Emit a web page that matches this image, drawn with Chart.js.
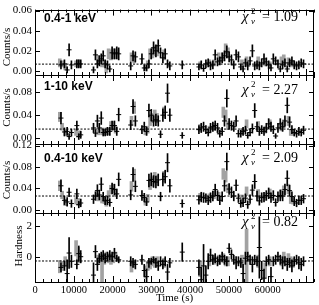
<!DOCTYPE html>
<html>
<head>
<meta charset="utf-8">
<script src="https://cdn.jsdelivr.net/npm/chart.js@4.4.0/dist/chart.umd.min.js"></script>
<style>
html, body { margin: 0; padding: 0; background: #fff; }
#wrap { position: relative; width: 319px; height: 305px; overflow: hidden; background: #fff; }
#wrap canvas { position: absolute; left: 0; top: 0; }
.xlab { position: absolute; width: 40px; text-align: center; font: 10.5px "Liberation Serif", "Times New Roman", serif;
        color: #000; line-height: 11px; z-index: 5; }
</style>
</head>
<body>
<div id="wrap">
  <canvas id="c1" width="319" height="305"></canvas>
  <canvas id="c2" width="319" height="305"></canvas>
  <canvas id="c3" width="319" height="305"></canvas>
  <canvas id="c4" width="319" height="305"></canvas>
</div>
<script>
// time bins (s) of the black points
const blackTime = [6700,7600,8300,8800,9400,
  10800,11300,11800,
  15100,15600,16100,16600,17100,17600,18100,18700,19300,19900,20500,21100,21600,
  24700,25300,25900,27600,28200,28800,29400,30000,30600,31200,31800,32400,33000,33600,34200,34800,
  38000,
  42300,42900,43500,44100,44700,45300,45900,46500,47100,47700,48300,48900,49500,50100,50700,51300,51900,52500,53100,53700,
  54300,54900,55500,56100,56700,57300,57900,58500,59100,59700,60300,60900,61500,62100,62700,63300,63900,64500,65100,65700,
  66300,66900,67500,68100,68700,69300];

// 0.4-1 keV
const softRate = [0.006,0.007,0.001,0.021,0.006,
  0.007,0.007,0.007,
  0.001,0.016,0.007,0.010,0.012,0.015,0.007,0.006,0.002,0.018,0.017,0.018,0.017,
  0.005,0.015,0.014,0.012,0.003,0.003,0.007,0.017,0.023,0.020,0.025,0.018,0.013,0.017,0.007,0.005,
  0.006,
  0.004,0.006,0.0025,0.007,0.008,0.005,0.006,0.016,0.009,0.010,0.013,0.015,0.019,0.014,0.011,0.006,0.016,0.014,0.004,0.002,
  0.008,0.005,0.010,0.020,0.005,0.006,0.005,0.008,0.012,0.009,0.006,0.003,0.012,0.010,0.007,0.002,0.006,0.008,0.002,0.008,
  0.010,0.006,0.005,0.006,0.008,0.007];
const softErr = [0.004,0.004,0.003,0.006,0.004,
  0.004,0.004,0.004,
  0.003,0.005,0.004,0.005,0.005,0.005,0.004,0.004,0.003,0.006,0.005,0.006,0.006,
  0.004,0.005,0.005,0.005,0.003,0.003,0.004,0.005,0.006,0.006,0.006,0.005,0.005,0.005,0.004,0.004,
  0.004,
  0.003,0.004,0.003,0.004,0.004,0.004,0.004,0.005,0.004,0.004,0.005,0.005,0.006,0.005,0.005,0.004,0.005,0.005,0.003,0.003,
  0.004,0.004,0.004,0.006,0.004,0.004,0.004,0.004,0.005,0.004,0.004,0.003,0.005,0.004,0.004,0.003,0.004,0.004,0.003,0.004,
  0.004,0.004,0.004,0.004,0.004,0.004];

// 1-10 keV
const hardRate = [0.035,0.011,0.012,0.003,0.010,
  0.022,0.003,0.006,
  0.018,0.009,0.030,0.018,0.035,0.010,0.010,0.012,0.012,0.022,0.022,0.012,0.041,
  0.023,0.055,0.030,0.015,0.020,0.012,0.048,0.040,0.030,0.032,0.030,0.007,0.040,0.045,0.078,0.040,
  0.005,
  0.015,0.018,0.020,0.015,0.010,0.018,0.020,0.022,0.018,0.008,0.012,0.030,0.069,0.025,0.022,0.020,0.030,0.008,0.008,0.012,
  0.014,0.005,0.010,0.017,0.048,0.020,0.012,0.015,0.012,0.018,0.025,0.020,0.015,0.004,0.018,0.025,0.020,0.030,0.057,0.028,
  0.015,0.010,0.008,0.012,0.010,0.014];
const hardErr = [0.010,0.007,0.007,0.005,0.006,
  0.008,0.005,0.006,
  0.008,0.006,0.010,0.008,0.011,0.006,0.006,0.007,0.007,0.008,0.008,0.007,0.011,
  0.008,0.012,0.009,0.007,0.008,0.007,0.011,0.010,0.009,0.010,0.009,0.006,0.011,0.011,0.016,0.011,
  0.005,
  0.007,0.008,0.008,0.007,0.006,0.008,0.008,0.008,0.008,0.006,0.007,0.009,0.015,0.009,0.008,0.008,0.009,0.006,0.006,0.007,
  0.007,0.005,0.006,0.008,0.012,0.008,0.007,0.007,0.007,0.008,0.009,0.008,0.007,0.004,0.008,0.009,0.008,0.009,0.013,0.009,
  0.007,0.006,0.006,0.007,0.006,0.007];

// 0.4-10 keV
const totalRate = [0.045,0.018,0.015,0.033,0.012,
  0.030,0.010,0.013,
  0.020,0.026,0.036,0.028,0.048,0.025,0.017,0.018,0.014,0.040,0.038,0.030,0.057,
  0.028,0.066,0.044,0.027,0.023,0.015,0.055,0.057,0.053,0.052,0.056,0.025,0.057,0.062,0.088,0.045,
  0.012,
  0.019,0.024,0.023,0.022,0.018,0.023,0.026,0.038,0.027,0.018,0.025,0.045,0.090,0.039,0.033,0.026,0.046,0.022,0.012,0.014,
  0.022,0.010,0.020,0.037,0.053,0.026,0.017,0.023,0.024,0.027,0.031,0.023,0.027,0.014,0.025,0.027,0.026,0.038,0.059,0.036,
  0.025,0.016,0.013,0.018,0.018,0.021];
const totalErr = [0.011,0.008,0.008,0.008,0.007,
  0.009,0.006,0.007,
  0.008,0.008,0.011,0.009,0.012,0.008,0.007,0.008,0.007,0.010,0.010,0.009,0.012,
  0.009,0.013,0.010,0.009,0.008,0.007,0.012,0.012,0.011,0.011,0.011,0.008,0.012,0.012,0.017,0.012,
  0.007,
  0.008,0.009,0.009,0.008,0.008,0.009,0.009,0.010,0.009,0.008,0.009,0.010,0.016,0.010,0.010,0.009,0.010,0.008,0.007,0.008,
  0.008,0.007,0.008,0.010,0.013,0.009,0.008,0.009,0.009,0.009,0.010,0.009,0.009,0.007,0.009,0.010,0.009,0.010,0.014,0.010,
  0.009,0.008,0.007,0.008,0.008,0.008];

// hardness ratio
const hrValue = [-0.7,-0.6,-1.1,0.24,-0.3,
  -0.5,0.2,0.0,
  -1.2,0.33,-0.5,-0.1,0.0,0.1,-0.1,0.0,0.1,0.0,0.25,-0.1,-0.2,
  -0.3,-0.4,-0.5,-0.2,-0.9,-1.3,-0.4,-0.3,-0.2,-0.4,-0.6,-0.3,-0.5,-0.3,-1.0,-0.4,
  0.3,
  -0.7,-1.5,-0.6,-1.2,-0.3,0.1,-0.2,-0.1,-0.3,-0.2,0.0,-0.2,-0.3,0.55,0.15,-0.2,-0.4,-0.3,-0.4,-1.1,
  -0.1,0.0,-0.2,-0.5,-0.2,-0.3,0.6,-0.9,-1.4,-0.3,-0.2,-1.3,-0.3,-0.2,0.0,-0.2,-0.4,-0.3,-0.5,-0.4,
  -0.6,-0.3,-0.2,-0.4,-0.5,-0.3];
const hrErr = [0.3,0.3,0.9,1.0,0.4,
  0.3,0.5,0.4,
  0.8,0.4,0.4,0.3,0.3,0.3,0.3,0.3,0.3,0.3,0.3,0.2,0.2,
  0.3,0.3,0.3,0.3,0.4,0.5,0.3,0.2,0.2,0.3,0.3,0.3,0.3,0.3,0.5,0.3,
  0.6,
  0.5,0.8,1.4,0.6,0.5,0.4,0.3,0.3,0.3,0.3,0.3,0.3,0.3,0.3,0.3,0.3,0.4,0.3,0.3,0.6,
  0.4,0.3,0.3,0.5,0.3,0.3,2.0,0.6,0.6,0.3,0.3,0.6,0.3,0.3,0.3,0.3,0.4,0.3,0.4,0.3,
  0.4,0.3,0.3,0.4,0.4,0.3];

// grey points (second light curve)
const greyTime = [6400,7000,7800,10600,11100,11500,16300,17300,17900,18400,19000,19600,20200,20800,
  24900,25600,28500,29100,29700,30300,30900,31500,33300,
  42600,45000,46200,47400,48600,49200,49800,53400,54600,57600,59400,60600,63600,64200,65400,66000,66600];
const greySoft = [0.008,0.007,0.004,0.007,0.008,0.007,0.0115,0.007,0.007,0.001,0.017,0.016,0.017,0.017,
  0.014,0.012,0.003,0.007,0.017,0.018,0.020,0.020,0.016,
  0.006,0.008,0.008,0.014,0.014,0.022,0.018,0.008,0.010,0.010,0.008,0.006,0.010,0.012,0.009,0.008,0.007];
const greySoftErr = [0.004,0.003,0.003,0.003,0.003,0.003,0.004,0.003,0.003,0.003,0.005,0.005,0.005,0.005,
  0.004,0.004,0.003,0.003,0.005,0.005,0.005,0.005,0.005,
  0.003,0.003,0.003,0.004,0.004,0.005,0.005,0.003,0.004,0.004,0.003,0.003,0.004,0.004,0.004,0.003,0.003];
const greyHard = [0.037,0.020,0.010,0.010,0.006,0.008,0.012,0.012,0.011,0.012,0.012,0.022,0.022,0.015,
  0.030,0.053,0.012,0.015,0.030,0.035,0.040,0.035,0.045,
  0.018,0.015,0.020,0.012,0.045,0.040,0.022,0.012,0.025,0.022,0.015,0.025,0.020,0.025,0.030,0.010,0.010];
const greyHardErr = [0.008,0.006,0.005,0.005,0.004,0.005,0.006,0.006,0.005,0.006,0.006,0.007,0.007,0.006,
  0.008,0.010,0.006,0.006,0.008,0.008,0.009,0.008,0.009,
  0.006,0.006,0.006,0.005,0.009,0.009,0.007,0.005,0.007,0.007,0.006,0.007,0.007,0.007,0.008,0.005,0.005];
const greyTotal = [0.045,0.028,0.014,0.017,0.015,0.015,0.024,0.020,0.018,0.013,0.029,0.038,0.040,0.032,
  0.044,0.065,0.015,0.022,0.047,0.053,0.060,0.055,0.062,
  0.024,0.023,0.028,0.026,0.067,0.062,0.040,0.022,0.035,0.030,0.025,0.031,0.030,0.037,0.039,0.018,0.017];
const greyTotalErr = [0.009,0.007,0.006,0.006,0.006,0.006,0.007,0.007,0.006,0.006,0.007,0.008,0.008,0.007,
  0.009,0.011,0.006,0.007,0.009,0.009,0.010,0.009,0.010,
  0.007,0.007,0.007,0.007,0.010,0.010,0.008,0.006,0.008,0.008,0.007,0.008,0.008,0.008,0.009,0.006,0.006];
const greyHr = [-0.65,-0.6,-0.3,0.55,0.2,-0.1,-0.2,-1.0,-0.2,0.0,-0.1,-0.2,-0.1,0.0,
  -0.7,-0.5,-1.0,-0.6,-0.5,-0.3,-0.4,-0.3,-0.4,
  -0.8,-0.3,-0.2,-0.2,-0.1,-0.3,-0.3,-0.3,0.0,-0.3,-0.9,-0.3,-0.3,0.0,-0.1,-0.3,-0.4];
const greyHrErr = [0.4,0.3,0.3,0.5,0.4,0.3,0.3,0.9,0.3,0.3,0.3,0.3,0.3,0.3,
  0.3,0.2,0.4,0.3,0.3,0.3,0.3,0.3,0.3,
  0.5,0.3,0.3,0.3,0.3,0.3,0.3,0.4,1.8,0.4,0.5,0.3,0.3,0.3,0.3,0.3,0.3];

// mean levels and reduced chi-square of a constant fit
const meanLevel = [0.0068, 0.016, 0.026, -0.28];
const chiLabel = ['1.09', '2.27', '2.09', '0.82'];
const bandLabel = ['0.4-1 keV', '1-10 keV', '0.4-10 keV', ''];
const yTitles = ['Counts/s', 'Counts/s', 'Counts/s', 'Hardness'];
const yTicks = [0.02, 0.04, 0.04, 2];
const xTicks = [0, 10000, 20000, 30000, 40000, 50000, 60000];

const SERIF = '"Liberation Serif", "Times New Roman", serif';
Chart.defaults.font.family = SERIF;
Chart.defaults.font.size = 10;
Chart.defaults.color = '#000';

const panels = [
  { id: 'c1', top: 5, bottom: 75, min: -0.0040, max: 0.0609, dec: 2,
    blk: softRate, blkErr: softErr, gry: greySoft, gryErr: greySoftErr,
    bandY: 21.7, chiY: 21, titleX: 7.5, titleY: 47 },
  { id: 'c2', top: 75, bottom: 144, min: -0.0098, max: 0.1094, dec: 2,
    blk: hardRate, blkErr: hardErr, gry: greyHard, gryErr: greyHardErr,
    bandY: 90, chiY: 94, titleX: 7.5, titleY: 107.5 },
  { id: 'c3', top: 144, bottom: 213, min: -0.0056, max: 0.1228, dec: 2,
    blk: totalRate, blkErr: totalErr, gry: greyTotal, gryErr: greyTotalErr,
    bandY: 162, chiY: 161.7, titleX: 7.5, titleY: 180 },
  { id: 'c4', top: 213, bottom: 282, min: -1.65, max: 2.85, dec: 0,
    blk: hrValue, blkErr: hrErr, gry: greyHr, gryErr: greyHrErr,
    bandY: 0, chiY: 226, titleX: 19, titleY: 246 }
];

// box, inward ticks and annotations
const framePlugin = {
  id: 'frame',
  afterDraw(chart, args, o) {
    const { ctx, chartArea: a, scales } = chart;
    const x = scales.x, y = scales.y;
    ctx.save();
    ctx.strokeStyle = '#000';
    ctx.fillStyle = '#000';
    ctx.lineWidth = 1;
    ctx.strokeRect(Math.round(a.left) + 0.5, Math.round(a.top) + 0.5,
      Math.round(a.right - a.left) - 1, Math.round(a.bottom - a.top));
    ctx.beginPath();
    for (let t = 0; t <= x.max; t += 2000) {
      const px = Math.round(x.getPixelForValue(t)) + 0.5;
      const len = t % 10000 === 0 ? 6 : 3;
      ctx.moveTo(px, a.bottom); ctx.lineTo(px, a.bottom - len);
      ctx.moveTo(px, a.top); ctx.lineTo(px, a.top + len);
    }
    y.ticks.forEach(tk => {
      const py = Math.round(y.getPixelForValue(tk.value)) + 0.5;
      ctx.moveTo(a.left, py); ctx.lineTo(a.left + 5, py);
      ctx.moveTo(a.right, py); ctx.lineTo(a.right - 5, py);
    });
    ctx.stroke();

    // band label
    if (o.band) {
      ctx.font = 'bold 12px "Liberation Sans", Arial, sans-serif';
      ctx.textAlign = 'left';
      ctx.textBaseline = 'alphabetic';
      ctx.fillText(o.band, 44, o.bandY);
    }
    // reduced chi-square
    const B = o.chiY;
    ctx.textAlign = 'left';
    ctx.textBaseline = 'alphabetic';
    ctx.font = 'italic 15px ' + SERIF;
    ctx.fillText('\u03C7', 242, B);
    ctx.font = '9px ' + SERIF;
    ctx.fillText('2', 251, B - 7);
    ctx.font = 'italic 9px ' + SERIF;
    ctx.fillText('\u03BD', 251, B + 3);
    ctx.font = '14px ' + SERIF;
    ctx.fillText('= ' + o.chi, 262, B);
    // y title
    ctx.translate(o.titleX, o.titleY);
    ctx.rotate(-Math.PI / 2);
    ctx.font = '11px ' + SERIF;
    ctx.textAlign = 'center';
    ctx.textBaseline = 'middle';
    ctx.fillText(o.title, 0, 0);
    ctx.restore();
  }
};

let bottomChart = null;
panels.forEach((p, k) => {
  const last = k === panels.length - 1;
  const datasets = [
    {
      type: 'bar', order: 0, grouped: false, barThickness: 1,
      backgroundColor: '#000',
      data: blackTime.map((t, i) => ({ x: t, y: [p.blk[i] - p.blkErr[i], p.blk[i] + p.blkErr[i]] }))
    },
    {
      type: 'scatter', order: 0, pointStyle: 'line', pointRadius: 2.5,
      borderColor: '#000', borderWidth: 1,
      data: blackTime.map((t, i) => ({ x: t, y: p.blk[i] }))
    },
    {
      type: 'line', order: 1, borderColor: '#000', borderWidth: 1, borderDash: [2, 1.5],
      pointRadius: 0,
      data: [{ x: 0, y: meanLevel[k] }, { x: 72000, y: meanLevel[k] }]
    },
    {
      type: 'bar', order: 2, grouped: false, barThickness: 3,
      backgroundColor: '#a2a2a2',
      data: greyTime.map((t, i) => ({ x: t, y: [p.gry[i] - p.gryErr[i], p.gry[i] + p.gryErr[i]] }))
    }
  ];

  const chart = new Chart(document.getElementById(p.id), {
    type: 'scatter',
    data: { datasets },
    options: {
      responsive: false,
      animation: false,
      events: [],
      layout: { padding: { top: p.top, bottom: last ? 0 : 305 - p.bottom, left: 0, right: 3 } },
      plugins: {
        legend: { display: false },
        tooltip: { enabled: false },
        frame: { band: bandLabel[k], bandY: p.bandY, chi: chiLabel[k], chiY: p.chiY,
                 title: yTitles[k], titleX: p.titleX, titleY: p.titleY }
      },
      scales: {
        x: {
          type: 'linear', min: 0, max: 72000, offset: false,
          display: last,
          grid: { display: false, drawTicks: false },
          border: { display: false },
          ticks: { display: false },
          title: { display: true, text: 'Time (s)', font: { size: 11 }, padding: { top: 0, bottom: 0 } },
          afterFit: s => { if (last) s.height = 23; }
        },
        y: {
          type: 'linear', min: p.min, max: p.max,
          grid: { display: false, drawTicks: false },
          border: { display: false },
          ticks: { stepSize: yTicks[k], includeBounds: false, padding: 3, font: { size: 11 },
                   callback: v => v.toFixed(p.dec) },
          afterFit: s => { s.width = 35; }
        }
      }
    },
    plugins: [framePlugin]
  });
  if (last) bottomChart = chart;
});

// time tick labels, placed with the bottom panel's x scale
const wrap = document.getElementById('wrap');
const xs = bottomChart.scales.x;
xTicks.forEach(v => {
  const d = document.createElement('div');
  d.className = 'xlab';
  d.textContent = String(v);
  d.style.left = (xs.getPixelForValue(v) - 20) + 'px';
  d.style.top = (bottomChart.chartArea.bottom + 2) + 'px';
  wrap.appendChild(d);
});
</script>
</body>
</html>
